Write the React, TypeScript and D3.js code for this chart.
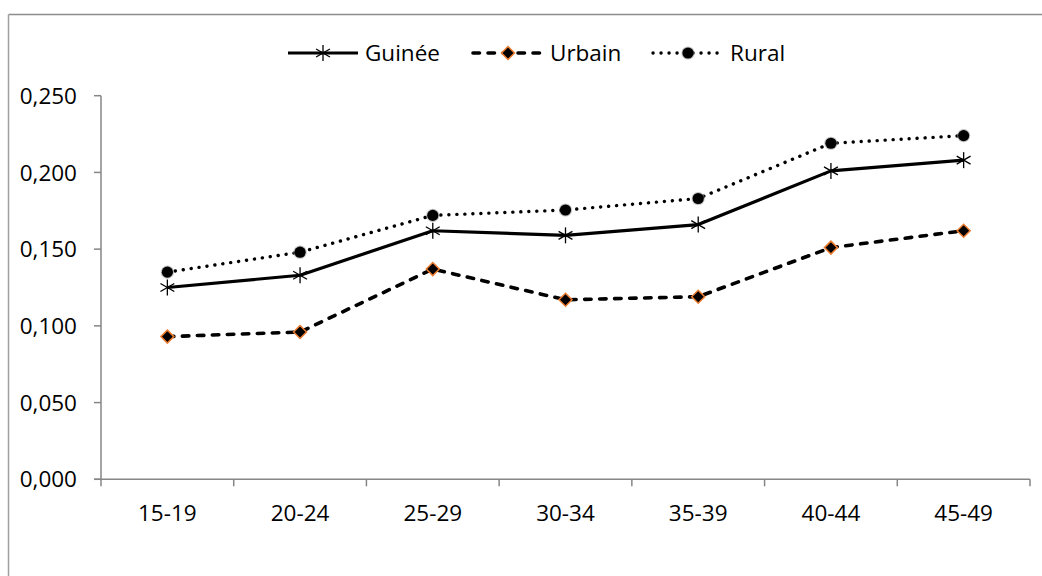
import React from "react";
import * as d3 from "d3";

// Age groups and values per area of residence
const categories = ["15-19", "20-24", "25-29", "30-34", "35-39", "40-44", "45-49"];
const guinee = [0.125, 0.133, 0.162, 0.159, 0.166, 0.201, 0.208];
const urbain = [0.093, 0.096, 0.137, 0.117, 0.119, 0.151, 0.162];
const rural = [0.135, 0.148, 0.172, 0.1755, 0.183, 0.219, 0.224];
const yTicks = [0, 0.05, 0.1, 0.15, 0.2, 0.25];
const seriesNames = ["Guinée", "Urbain", "Rural"];

const W = 1042;
const H = 576;
const FONT = "'Open Sans', 'Noto Sans', sans-serif";
const AXIS = "#868686";

const plot = { left: 101, right: 1030, top: 95.7, bottom: 479.3 };

const fmt = (v: number) => v.toFixed(3).replace(".", ",");

function Asterisk({ x, y }: { x: number; y: number }) {
  const r = 8;
  const d = r * 0.866;
  return (
    <g stroke="#000" strokeWidth={1.3}>
      <line x1={x} y1={y - r} x2={x} y2={y + r} />
      <line x1={x - d} y1={y - r / 2} x2={x + d} y2={y + r / 2} />
      <line x1={x - d} y1={y + r / 2} x2={x + d} y2={y - r / 2} />
    </g>
  );
}

function Diamond({ x, y }: { x: number; y: number }) {
  const r = 6.5;
  return (
    <path
      d={`M${x},${y - r}L${x + r},${y}L${x},${y + r}L${x - r},${y}Z`}
      fill="#000"
      stroke="#ed7d31"
      strokeWidth={1.5}
    />
  );
}

function Dot({ x, y }: { x: number; y: number }) {
  return (
    <g>
      <circle cx={x} cy={y} r={6.6} fill="#9a9a9a" opacity={0.6} />
      <circle cx={x} cy={y} r={5.6} fill="#000" />
    </g>
  );
}

export default function App() {
  const x = d3
    .scaleBand<string>()
    .domain(categories)
    .range([plot.left, plot.right]);
  const y = d3.scaleLinear().domain([0, 0.25]).range([plot.bottom, plot.top]);
  const cx = (c: string) => (x(c) as number) + x.bandwidth() / 2;

  const line = d3
    .line<number>()
    .x((_, i) => cx(categories[i]))
    .y((v) => y(v));

  const styles = [
    { data: guinee, dash: undefined, width: 3.2, cap: "butt", Marker: Asterisk },
    { data: urbain, dash: "6.5 8.5", width: 3.6, cap: "round", Marker: Diamond },
    { data: rural, dash: "0.1 7.9", width: 3.4, cap: "round", Marker: Dot },
  ];

  const legendItems = [
    { x0: 288, text: 365 },
    { x0: 473, text: 550 },
    { x0: 653, text: 730 },
  ];
  const legendY = 53;

  return (
    <svg
      width={W}
      height={H}
      style={{ position: "fixed", left: 0, top: 0, background: "#fff" }}
      fontFamily={FONT}
    >
      <rect x={0} y={0} width={W} height={H} fill="#fff" />
      {/* chart frame */}
      <line x1={8.5} y1={14.5} x2={W} y2={14.5} stroke="#8c8c8c" strokeWidth={1.5} />
      <line x1={8.5} y1={14.5} x2={8.5} y2={H} stroke="#a0a0a0" strokeWidth={1.5} />

      {/* y axis */}
      <line x1={plot.left} y1={plot.top} x2={plot.left} y2={plot.bottom + 7} stroke={AXIS} strokeWidth={1.5} />
      {yTicks.map((t) => (
        <g key={t}>
          <line x1={plot.left - 7} x2={plot.left} y1={y(t)} y2={y(t)} stroke={AXIS} strokeWidth={1.5} />
          <text x={77} y={y(t)} dy="0.36em" textAnchor="end" fontSize={22.5} fill="#000">
            {fmt(t)}
          </text>
        </g>
      ))}

      {/* x axis */}
      <line x1={plot.left - 7} y1={plot.bottom} x2={plot.right} y2={plot.bottom} stroke={AXIS} strokeWidth={1.5} />
      {categories.map((c) => (
        <line
          key={"t" + c}
          x1={(x(c) as number) + x.bandwidth()}
          x2={(x(c) as number) + x.bandwidth()}
          y1={plot.bottom}
          y2={plot.bottom + 7}
          stroke={AXIS}
          strokeWidth={1.5}
        />
      ))}
      {categories.map((c) => (
        <text key={c} x={cx(c)} y={521} textAnchor="middle" fontSize={22.5} fill="#000">
          {c}
        </text>
      ))}

      {/* series */}
      {styles.map((s, k) => (
        <g key={k}>
          <path
            d={line(s.data) as string}
            fill="none"
            stroke="#000"
            strokeWidth={s.width}
            strokeDasharray={s.dash}
            strokeLinecap={s.cap as any}
            strokeLinejoin="round"
          />
          {s.data.map((v, i) => (
            <s.Marker key={i} x={cx(categories[i])} y={y(v)} />
          ))}
        </g>
      ))}

      {/* legend */}
      {styles.map((s, k) => {
        const it = legendItems[k];
        return (
          <g key={"l" + k}>
            <line
              x1={it.x0}
              x2={it.x0 + 70}
              y1={legendY}
              y2={legendY}
              stroke="#000"
              strokeWidth={s.width}
              strokeDasharray={s.dash}
              strokeLinecap={s.cap as any}
            />
            <s.Marker x={it.x0 + 35} y={legendY} />
            <text x={it.text} y={legendY} dy="0.36em" fontSize={22.5} fill="#000">
              {seriesNames[k]}
            </text>
          </g>
        );
      })}
    </svg>
  );
}
